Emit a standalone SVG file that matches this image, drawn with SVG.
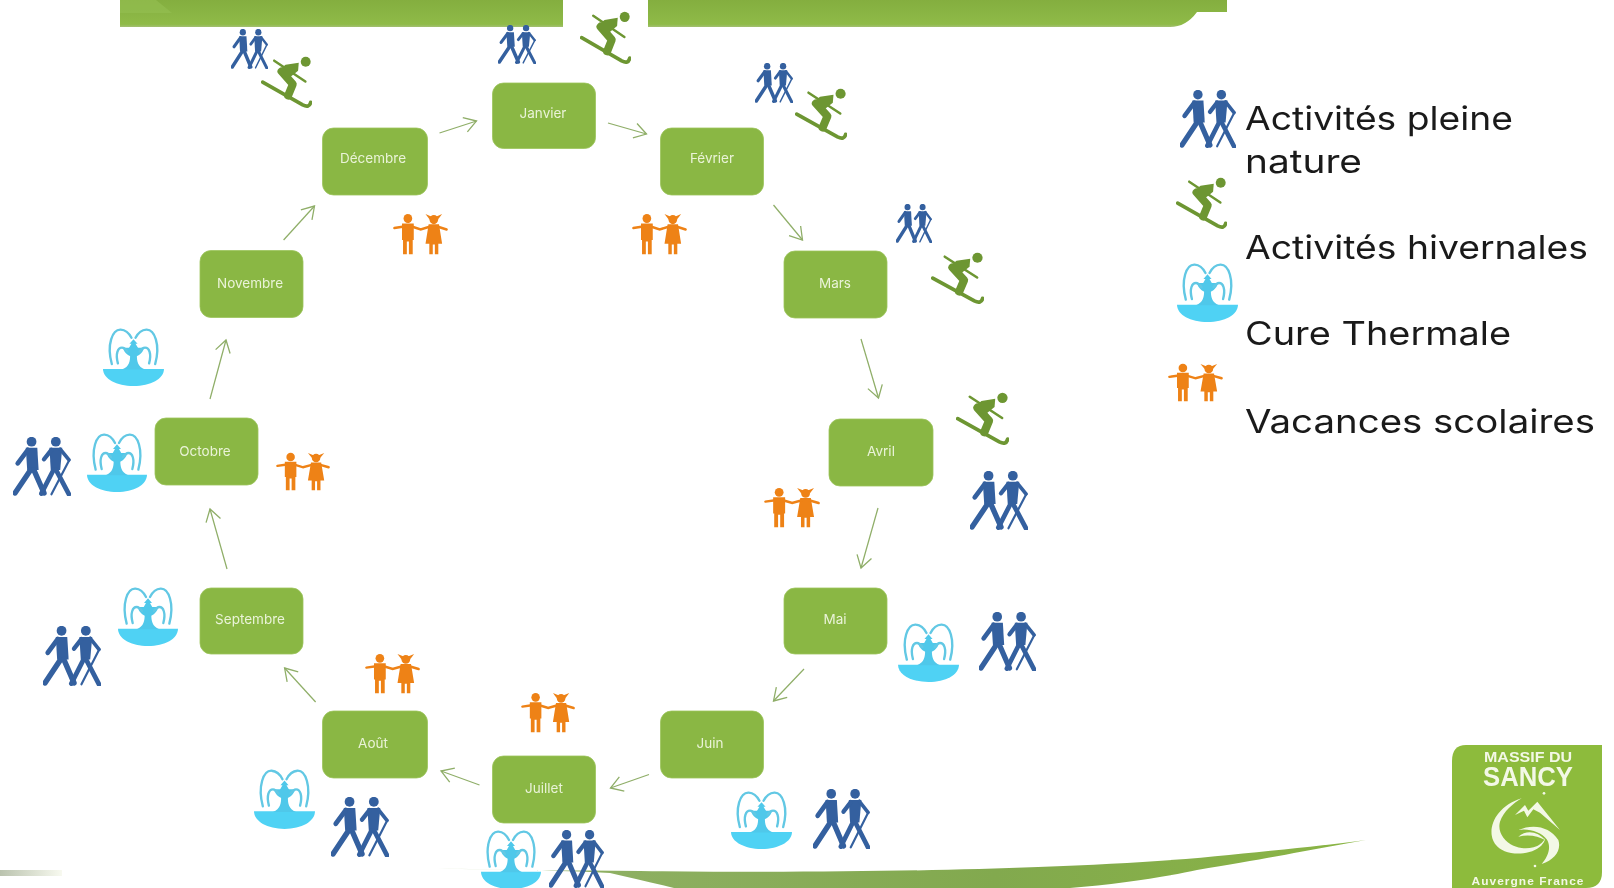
<svg xmlns="http://www.w3.org/2000/svg" width="1614" height="888" viewBox="0 0 1614 888">
<style>
.n rect{fill:#8ab744;stroke:#9cc45c;stroke-width:.8}
.n text{font:13.5px Inter,"Liberation Sans",sans-serif;fill:#eaf3d8;text-anchor:middle}
.lg{font:33px Inter,"Liberation Sans",sans-serif;fill:#1a1a1a}
#connectors line{stroke:#8fae68;stroke-width:1.25;fill:none}
.lt{font-family:"Liberation Sans",Arial,sans-serif;font-weight:700;fill:#f3f8e6;text-anchor:middle}
</style>
<defs>
<filter id="soft" x="0" y="0" width="100%" height="100%" color-interpolation-filters="sRGB"><feGaussianBlur stdDeviation="0.5"/></filter>
<marker id="a" markerUnits="userSpaceOnUse" markerWidth="22" markerHeight="22" refX="18" refY="10" orient="auto"><path d="M6 2.5L18 10L6 17.5" fill="none" stroke="#8fae68" stroke-width="1.3"/></marker>
<linearGradient id="hd" x1="0" y1="0" x2="0" y2="1"><stop offset="0" stop-color="#84ae3f"/><stop offset=".5" stop-color="#8ab544"/><stop offset=".9" stop-color="#8fbb48"/><stop offset="1" stop-color="#a3bf72"/></linearGradient>
<linearGradient id="sw" x1="0" y1="0" x2="1" y2="0"><stop offset="0" stop-color="#e6edda"/><stop offset=".14" stop-color="#8fb064"/><stop offset=".6" stop-color="#82a94e"/><stop offset="1" stop-color="#8ab544"/></linearGradient>
<linearGradient id="sl" x1="0" y1="0" x2="1" y2="0"><stop offset="0" stop-color="#a9b49a"/><stop offset="1" stop-color="#f6f8ec"/></linearGradient>
<symbol id="hiker" viewBox="0 0 172 175" preserveAspectRatio="none">
<g fill="#34609f"><circle cx="55" cy="14" r="14.5"/><circle cx="127" cy="14" r="14.5"/>
<path d="M38 32H72L76 98H42Z"/><path d="M108 32H146L140 98H112Z"/></g>
<g fill="none" stroke="#34609f" stroke-linecap="round" stroke-linejoin="round">
<path d="M44 38L14 78" stroke-width="14"/><path d="M114 38L92 66" stroke-width="13"/>
<path d="M140 36L166 68" stroke-width="11"/>
<path d="M167 68L114 170" stroke-width="6.5"/>
<path d="M52 98L6 166" stroke-width="16"/><path d="M62 98L92 166" stroke-width="16"/>
<path d="M120 98L84 168" stroke-width="14"/><path d="M128 98L166 170" stroke-width="14"/>
</g></symbol>
<symbol id="skier" viewBox="0 0 154 158" preserveAspectRatio="none">
<g fill="none" stroke="#6d9632" stroke-linecap="round" stroke-linejoin="round">
<path d="M5 78L126 146Q146 156 150 138" stroke-width="11"/>
<path d="M40 14L134 76" stroke-width="7.5"/>
<path d="M62 46L96 84L82 118" stroke-width="24"/>
</g><circle cx="135" cy="17" r="15" fill="#6d9632"/><path d="M114 20L74 26L50 46L82 68L112 44Z" fill="#6d9632"/></symbol>
<symbol id="fountain" viewBox="0 0 180 177" preserveAspectRatio="none">
<path d="M0 125H180C180 155 140 177 90 177C40 177 0 155 0 125Z" fill="#4fd2f4"/>
<path d="M56 127C78 118 80 100 80 84H100C100 100 102 118 124 127Z" fill="#4fc8ea"/>
<path d="M58 60H122C116 78 102 88 90 88C78 88 64 78 58 60Z" fill="#4fc8ea"/>
<path d="M76 62L84 48H78L90 34L102 48H96L104 62Z" fill="#4fc8ea"/>
<g fill="none" stroke="#62c8e4" stroke-width="7" stroke-linecap="round">
<path d="M26 110C10 50 28 4 52 5C68 6 78 18 84 30"/><path d="M154 110C170 50 152 4 128 5C112 6 102 18 96 30"/>
<path d="M44 108C36 78 44 60 56 60C64 60 68 66 72 72"/><path d="M136 108C144 78 136 60 124 60C116 60 112 66 108 72"/>
</g></symbol>
<symbol id="kids" viewBox="0 0 159 115" preserveAspectRatio="none">
<g fill="#ee8216"><circle cx="43" cy="15" r="12.5"/><circle cx="118" cy="18" r="12.5"/>
<path d="M26 29H60V74H57V113H46V78H40V113H29V74H26Z"/>
<path d="M103 31H133L142 84H131V113H121V86H115V113H105V84H94Z"/>
<path d="M94 3L112 10L106 18Z"/><path d="M142 3L124 10L130 18Z"/></g>
<g fill="none" stroke="#ee8216" stroke-width="7" stroke-linecap="round"><path d="M4 41L32 37"/><path d="M54 37L80 45L108 37"/><path d="M128 37L155 45"/></g></symbol>
</defs>
<rect width="1614" height="888" fill="#fff"/>
<g filter="url(#soft)">
<g id="banner">
<rect x="120" y="0" width="443" height="27" fill="url(#hd)"/>
<path d="M120 0H156L172 13H120Z" fill="#93be50" opacity=".7"/>
<path d="M648 0H1227V12H1197Q1186 27 1170 27H648Z" fill="url(#hd)"/>
</g>
<g id="swoosh">
<path d="M0 870H62V876H0Z" fill="url(#sl)" opacity=".8"/>
<path d="M438 868C500 871 570 870 640 871C800 873 930 871 1038 867C1120 864 1180 860 1229 855C1280 850 1330 845 1366 840C1310 850 1270 858 1197 870C1170 876 1120 884 1070 888H674C650 882 630 878 610 873C560 870 490 870 438 868Z" fill="url(#sw)"/>
</g>
<g id="connectors">
<line x1="439.5" y1="133" x2="476.5" y2="121" marker-end="url(#a)"/>
<line x1="608" y1="123" x2="646.5" y2="134" marker-end="url(#a)"/>
<line x1="773.5" y1="205" x2="802.5" y2="240" marker-end="url(#a)"/>
<line x1="861" y1="339" x2="878.5" y2="398" marker-end="url(#a)"/>
<line x1="878" y1="508" x2="861" y2="568" marker-end="url(#a)"/>
<line x1="804" y1="669" x2="773.5" y2="701" marker-end="url(#a)"/>
<line x1="649" y1="774.5" x2="610.5" y2="788" marker-end="url(#a)"/>
<line x1="479.5" y1="785" x2="441" y2="771" marker-end="url(#a)"/>
<line x1="315.6" y1="702" x2="284.6" y2="668" marker-end="url(#a)"/>
<line x1="227" y1="569" x2="210" y2="509" marker-end="url(#a)"/>
<line x1="210" y1="399" x2="226" y2="340" marker-end="url(#a)"/>
<line x1="283.6" y1="240" x2="314.5" y2="206" marker-end="url(#a)"/>
</g>
<g id="n-janvier" class="n"><rect x="492.5" y="83" width="103" height="65.5" rx="11"/><text x="543" y="117.5">Janvier</text></g>
<g id="n-fevrier" class="n"><rect x="660.5" y="128" width="103" height="67" rx="11"/><text x="712" y="162.5">Février</text></g>
<g id="n-mars" class="n"><rect x="784" y="251" width="103" height="67" rx="11"/><text x="835" y="287.5">Mars</text></g>
<g id="n-avril" class="n"><rect x="829" y="419" width="104" height="67" rx="11"/><text x="881" y="455.5">Avril</text></g>
<g id="n-mai" class="n"><rect x="784" y="588" width="103" height="66" rx="11"/><text x="835" y="623.5">Mai</text></g>
<g id="n-juin" class="n"><rect x="660.5" y="711" width="103" height="67" rx="11"/><text x="710" y="747.5">Juin</text></g>
<g id="n-juillet" class="n"><rect x="492.5" y="756" width="103" height="67" rx="11"/><text x="544" y="792.5">Juillet</text></g>
<g id="n-aout" class="n"><rect x="322.5" y="711" width="105" height="67" rx="11"/><text x="373" y="747.5">Août</text></g>
<g id="n-septembre" class="n"><rect x="200" y="588" width="103" height="66" rx="11"/><text x="250" y="623.5">Septembre</text></g>
<g id="n-octobre" class="n"><rect x="155" y="418" width="103" height="67" rx="11"/><text x="205" y="455.5">Octobre</text></g>
<g id="n-novembre" class="n"><rect x="200" y="250.5" width="103" height="67" rx="11"/><text x="250" y="287.5">Novembre</text></g>
<g id="n-decembre" class="n"><rect x="322.5" y="128" width="105" height="67" rx="11"/><text x="373" y="162.5">Décembre</text></g>
<g id="icons">
<use href="#hiker" x="231" y="29" width="37" height="40"/>
<use href="#hiker" x="498" y="25" width="38" height="39"/>
<use href="#hiker" x="755" y="63" width="38" height="40"/>
<use href="#hiker" x="896" y="204" width="36" height="39"/>
<use href="#hiker" x="970" y="471" width="58" height="59"/>
<use href="#hiker" x="979" y="612" width="57" height="59"/>
<use href="#hiker" x="813" y="789" width="57" height="60"/>
<use href="#hiker" x="549" y="830" width="55" height="58"/>
<use href="#hiker" x="331" y="797" width="58" height="60"/>
<use href="#hiker" x="43" y="626" width="58" height="60"/>
<use href="#hiker" x="13" y="437" width="58" height="59"/>
<use href="#skier" x="261" y="56" width="51" height="53"/>
<use href="#skier" x="580" y="11" width="51" height="54"/>
<use href="#skier" x="795" y="88" width="52" height="53"/>
<use href="#skier" x="931" y="252" width="53" height="53"/>
<use href="#skier" x="956" y="392" width="53" height="54"/>
<use href="#fountain" x="103" y="328" width="61" height="58"/>
<use href="#fountain" x="87" y="433" width="60" height="59"/>
<use href="#fountain" x="118" y="587" width="60" height="59"/>
<use href="#fountain" x="898" y="623" width="61" height="59"/>
<use href="#fountain" x="731" y="791" width="61" height="58"/>
<use href="#fountain" x="481" y="830" width="60" height="59"/>
<use href="#fountain" x="254" y="769" width="61" height="60"/>
<use href="#kids" x="393" y="213" width="55" height="42"/>
<use href="#kids" x="632" y="213" width="55" height="42"/>
<use href="#kids" x="764" y="487" width="56" height="41"/>
<use href="#kids" x="276" y="452" width="54" height="39"/>
<use href="#kids" x="365" y="653" width="55" height="41"/>
<use href="#kids" x="521" y="692" width="54" height="41"/>
</g>
<g id="legend">
<use href="#hiker" x="1180" y="90" width="56" height="58"/>
<use href="#skier" x="1176" y="177" width="51" height="53"/>
<use href="#fountain" x="1177" y="263" width="61" height="59"/>
<use href="#kids" x="1168" y="363" width="55" height="39"/>
<text class="lg" x="1245" y="130" textLength="268" lengthAdjust="spacingAndGlyphs">Activités pleine</text>
<text class="lg" x="1245" y="172.5" textLength="117" lengthAdjust="spacingAndGlyphs">nature</text>
<text class="lg" x="1245" y="259" textLength="343" lengthAdjust="spacingAndGlyphs">Activités hivernales</text>
<text class="lg" x="1245" y="345" textLength="266" lengthAdjust="spacingAndGlyphs">Cure Thermale</text>
<text class="lg" x="1245" y="433" textLength="350" lengthAdjust="spacingAndGlyphs">Vacances scolaires</text>
</g>
<g id="logo">
<path d="M1466 745H1602V872Q1602 888 1586 888H1452V761Q1452 745 1466 745Z" fill="#8dbb3c"/>
<text class="lt" x="1528" y="762" font-size="15.5" textLength="88" lengthAdjust="spacingAndGlyphs">MASSIF DU</text>
<text class="lt" x="1528" y="786" font-size="27" textLength="90" lengthAdjust="spacingAndGlyphs">SANCY</text>
<text class="lt" x="1528" y="885" font-size="11.5" letter-spacing="1" textLength="113" lengthAdjust="spacingAndGlyphs">Auvergne France</text>
<g transform="translate(1450 790) scale(.3333)" fill="#f3f8e6">
<path d="M215 25C150 45 120 95 125 135C130 175 170 195 220 190C255 186 285 165 285 145C275 170 240 178 215 174C170 168 140 130 150 95C160 65 190 40 215 25Z"/>
<path d="M195 75L225 45L235 62L262 35L330 120L270 68L250 58L232 82L222 62Z"/>
<path d="M205 120C250 100 300 110 325 150C335 180 315 210 275 222C295 200 305 170 290 148C275 126 235 114 205 120Z"/>
<path d="M205 140C230 118 265 125 285 150C265 138 235 132 205 140Z"/>
<circle cx="282" cy="10" r="4"/><circle cx="255" cy="228" r="4"/>
</g>
</g>
</g>
</svg>
